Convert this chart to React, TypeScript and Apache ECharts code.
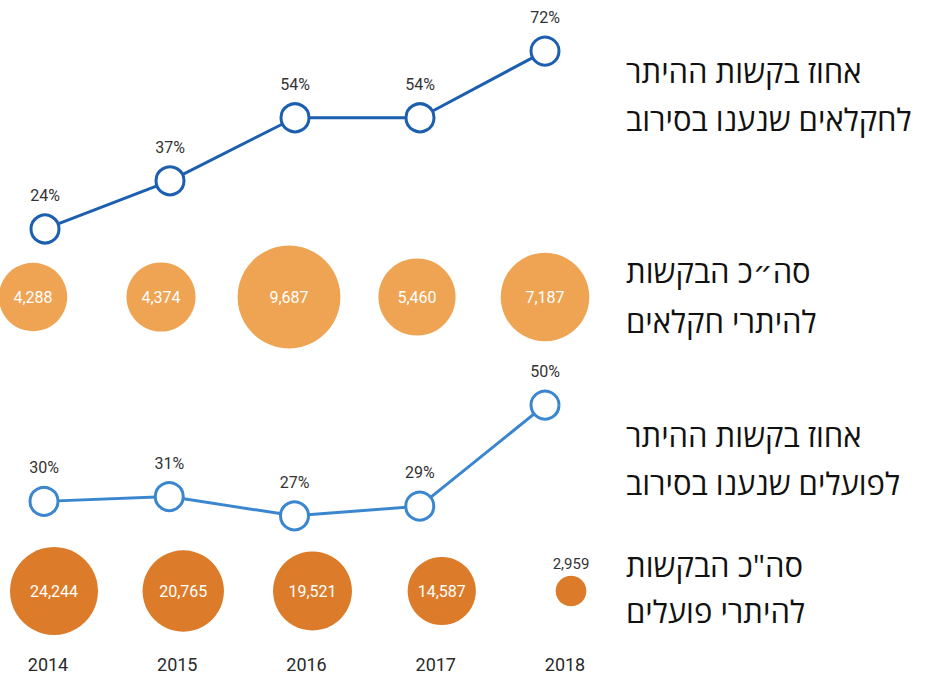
import React, { useEffect, useRef } from "react";
import * as echarts from "echarts";

const years = ["2014", "2015", "2016", "2017", "2018"];
const farmerRejectPct = [24, 37, 54, 54, 72];
const farmerRequests = [4288, 4374, 9687, 5460, 7187];
const workerRejectPct = [30, 31, 27, 29, 50];
const workerRequests = [24244, 20765, 19521, 14587, 2959];

const sideLines = [
  { text: "אחוז בקשות ההיתר", y: 71 },
  { text: "לחקלאים שנענו בסירוב", y: 119 },
  { text: "סה״כ הבקשות", y: 271 },
  { text: "להיתרי חקלאים", y: 321 },
  { text: "אחוז בקשות ההיתר", y: 435 },
  { text: "לפועלים שנענו בסירוב", y: 483 },
  { text: 'סה"כ הבקשות', y: 565 },
  { text: "להיתרי פועלים", y: 611 },
];

const NUMFONT = "Roboto, 'Liberation Sans', sans-serif";
const HEB = "'Open Sans', 'DejaVu Sans', sans-serif";
const fmt = (v: number) => v.toLocaleString("en-US");

function lineSeries(data: number[], idx: number, color: string) {
  return {
    type: "line",
    xAxisIndex: idx,
    yAxisIndex: idx,
    data,
    symbol: "circle",
    symbolSize: 28,
    silent: true,
    lineStyle: { color, width: 3 },
    itemStyle: { color: "#fff", borderColor: color, borderWidth: 3 },
    label: {
      show: true,
      position: "top",
      distance: 10,
      formatter: "{c}%",
      fontSize: 16,
      color: "#333",
      fontFamily: NUMFONT,
    },
  };
}

function bubbleSeries(values: number[], idx: number, color: string, k: number) {
  return {
    type: "scatter",
    xAxisIndex: idx,
    yAxisIndex: idx,
    silent: true,
    data: values.map((v, i) => {
      const d = Math.sqrt(v) * k;
      const item: any = { value: [years[i], 0, v] };
      if (d < 40) {
        item.label = { position: "top", distance: 4, color: "#333", fontSize: 15 };
      }
      return item;
    }),
    symbolSize: (d: number[]) => Math.sqrt(d[2]) * k,
    itemStyle: { color, opacity: 1 },
    label: {
      show: true,
      position: "inside",
      formatter: (p: any) => fmt(p.value[2]),
      color: "#fff",
      fontSize: 16,
      fontFamily: NUMFONT,
    },
  };
}

export default function App() {
  const ref = useRef<HTMLDivElement>(null);
  useEffect(() => {
    if (!ref.current) return;
    const chart = echarts.init(ref.current, undefined, { renderer: "svg" });
    const grids = [
      { left: 45, width: 500, top: 21.4, height: 222.4 },
      { left: 33, width: 512, top: 287, height: 20 },
      { left: 44, width: 501, top: 357, height: 192.5 },
      { left: 54, width: 517, top: 581, height: 20 },
      { left: 48, width: 517, top: 640, height: 5 },
    ];
    const yRanges = [
      [20, 80],
      [-1, 1],
      [20, 60],
      [-1, 1],
      [-1, 1],
    ];
    chart.setOption({
      animation: false,
      backgroundColor: "#fff",
      grid: grids,
      xAxis: grids.map((_, i) => ({
        type: "category",
        gridIndex: i,
        data: years,
        boundaryGap: false,
        show: i === 4,
        axisLine: { show: false },
        axisTick: { show: false },
        splitLine: { show: false },
        axisLabel: {
          show: i === 4,
          interval: 0,
          margin: 10,
          fontSize: 18,
          color: "#2a2a2a",
          fontFamily: NUMFONT,
        },
      })),
      yAxis: yRanges.map((r, i) => ({
        type: "value",
        gridIndex: i,
        min: r[0],
        max: r[1],
        show: false,
        splitLine: { show: false },
      })),
      series: [
        lineSeries(farmerRejectPct, 0, "#1c5fae"),
        bubbleSeries(farmerRequests, 1, "#eea453", 1.045),
        lineSeries(workerRejectPct, 2, "#3a86cf"),
        bubbleSeries(workerRequests, 3, "#dc7c2a", 0.565),
      ],
      graphic: sideLines.map((l) => ({
        type: "text",
        x: 626,
        y: l.y,
        silent: true,
        style: {
          text: l.text,
          fontSize: 31,
          fontFamily: HEB,
          fill: "#111",
          align: "left",
          textAlign: "left",
          verticalAlign: "middle",
          textVerticalAlign: "middle",
        },
      })),
    });
    return () => chart.dispose();
  }, []);
  return (
    <div
      ref={ref}
      style={{ position: "absolute", left: 0, top: 0, width: 930, height: 686, background: "#fff" }}
    />
  );
}
